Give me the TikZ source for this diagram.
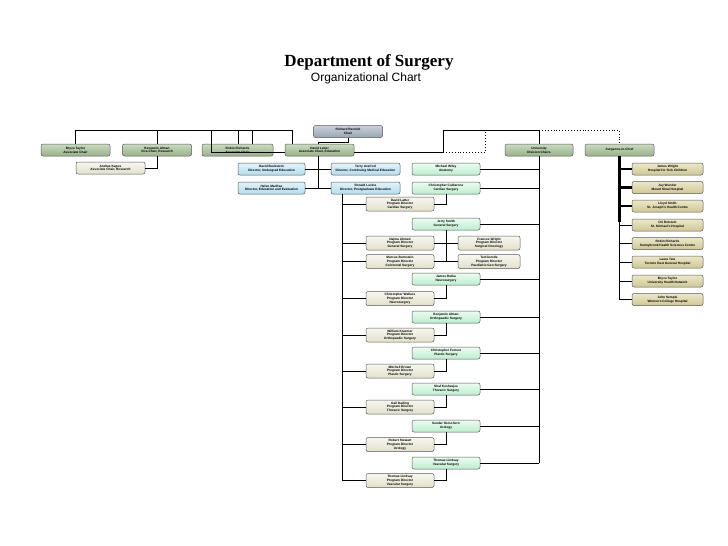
\documentclass[tikz,border=0pt]{standalone}
\usepackage{fontspec}
\setmainfont{Liberation Sans}
\newfontfamily\titlefont{Liberation Serif}
\usetikzlibrary{positioning,calc}

\definecolor{chairtop}{HTML}{C9D0DA}
\definecolor{chairbot}{HTML}{9AA5B3}
\definecolor{sagetop}{HTML}{CADBBF}
\definecolor{sagebot}{HTML}{98B089}
\definecolor{ivorytop}{HTML}{F8F7EE}
\definecolor{ivorybot}{HTML}{E2E0CB}
\definecolor{skytop}{HTML}{E2F3FB}
\definecolor{skybot}{HTML}{B4DCEE}
\definecolor{minttop}{HTML}{EDFCF2}
\definecolor{mintbot}{HTML}{BDEDCE}
\definecolor{khakitop}{HTML}{ECE8C8}
\definecolor{khakibot}{HTML}{CEC795}

\tikzset{
	box/.style={draw=black!65, line width=0.5pt, rounded corners=2pt,
		minimum width=69pt, minimum height=12pt, inner sep=0pt, align=center,
		font=\fontsize{3.2}{3.8}\selectfont\bfseries},
	chairbox/.style={box, top color=chairtop, bottom color=chairbot},
	sagebox/.style={box, top color=sagetop, bottom color=sagebot},
	ivorybox/.style={box, top color=ivorytop, bottom color=ivorybot},
	skybox/.style={box, top color=skytop, bottom color=skybot},
	mintbox/.style={box, top color=minttop, bottom color=mintbot},
	khakibox/.style={box, minimum width=71pt, top color=khakitop, bottom color=khakibot},
	pdbox/.style={ivorybox, minimum height=14pt},
	link/.style={line width=0.9pt},
	thicklink/.style={line width=2.2pt},
	dotlink/.style={line width=0.9pt, dotted},
}

\begin{document}
\begin{tikzpicture}[x=1pt,y=-1pt]
	\fill[white] (0,0) rectangle (728,546);
	\useasboundingbox (0,0) rectangle (728,546);

	\node (title) at (369,62) {\titlefont\fontsize{17}{20}\selectfont\bfseries Department of Surgery};
	\node (subtitle) at (366,78) {\fontsize{12}{14}\selectfont Organizational Chart};

	% top of the chart
	\node[chairbox] (chair) at (348,131.5) {Richard Reznick\\Chair};
	\node[sagebox] (btaylor) at (75.5,150) {Bryce Taylor\\Associate Chair};
	\node[sagebox] (balman) at (157,150) {Benjamin Alman\\Vice-Chair, Research};
	\node[sagebox, minimum width=71pt] (rrichards) at (237.5,150) {Robin Richards\\Associate Chair};
	\node[sagebox] (latter) at (319.5,150) {David Latter\\Associate Chair, Education};
	\node[sagebox, minimum width=68pt] (univ) at (539,150) {University\\Division Chairs};
	\node[sagebox] (sic) at (619.5,150) {Surgeons-in-Chief};

	\node[ivorybox] (kapus) at (110.5,168) {Andras Kapus\\Associate Chair, Research};

	% education
	\node[skybox, minimum width=67pt] (ugrad) at (271.5,169) {David Backstein\\Director, Undergrad Education};
	\node[skybox] (cme) at (365.5,169) {Terry Axelrod\\Director, Continuing Medical Education};
	\node[skybox, minimum width=67pt] (evaluation) at (271.5,188) {Helen MacRae\\Director, Education and Evaluation};
	\node[skybox] (pgrad) at (365.5,188) {Ronald Levine\\Director, Postgraduate Education};

	% division chairs
	\node[mintbox, minimum width=68pt] (anatomy) at (446,169) {Michael Wiley\\Anatomy};
	\node[mintbox, minimum width=68pt] (cardiac) at (446,188) {Christopher Caldarone\\Cardiac Surgery};
	\node[mintbox, minimum width=68pt] (general) at (446,224) {Jerry Smith\\General Surgery};
	\node[mintbox, minimum width=68pt] (neuro) at (446,279) {James Rutka\\Neurosurgery};
	\node[mintbox, minimum width=68pt] (ortho) at (446,317) {Benjamin Alman\\Orthopaedic Surgery};
	\node[mintbox, minimum width=68pt] (plastic) at (446,353) {Christopher Forrest\\Plastic Surgery};
	\node[mintbox, minimum width=68pt] (thoracic) at (446,389) {Shaf Keshavjee\\Thoracic Surgery};
	\node[mintbox, minimum width=68pt] (urology) at (446,426) {Sender Herschorn\\Urology};
	\node[mintbox, minimum width=68pt] (vascular) at (446,463) {Thomas Lindsay\\Vascular Surgery};

	% program directors
	\node[pdbox, minimum width=68pt] (pdcardiac) at (400,204) {David Latter\\Program Director\\Cardiac Surgery};
	\node[pdbox, minimum width=68pt] (pdgeneral) at (400,243) {Najma Ahmed\\Program Director\\General Surgery};
	\node[pdbox, minimum width=68pt] (pdcolorectal) at (400,261.5) {Marcus Burnstein\\Program Director\\Colorectal Surgery};
	\node[pdbox, minimum width=68pt] (pdneuro) at (400,298.5) {Christopher Wallace\\Program Director\\Neurosurgery};
	\node[pdbox, minimum width=68pt] (pdortho) at (400,335) {William Kraemer\\Program Director\\Orthopaedic Surgery};
	\node[pdbox, minimum width=68pt] (pdplastic) at (400,371) {Mitchell Brown\\Program Director\\Plastic Surgery};
	\node[pdbox, minimum width=68pt] (pdthoracic) at (400,407) {Gail Darling\\Program Director\\Thoracic Surgery};
	\node[pdbox, minimum width=68pt] (pdurology) at (400,444.5) {Robert Stewart\\Program Director\\Urology};
	\node[pdbox, minimum width=68pt] (pdvascular) at (400,480.5) {Thomas Lindsay\\Program Director\\Vascular Surgery};
	\node[pdbox, minimum width=62pt] (fwright) at (489,243) {Frances Wright\\Program Director\\Surgical Oncology};
	\node[pdbox, minimum width=62pt] (gerstle) at (489,261.5) {Ted Gerstle\\Program Director\\Paediatric Gen Surgery};

	% surgeons-in-chief
	\node[khakibox] (jwright) at (667.5,169) {James Wright\\Hospital for Sick Children};
	\node[khakibox] (wunder) at (667.5,187.5) {Jay Wunder\\Mount Sinai Hospital};
	\node[khakibox] (lsmith) at (667.5,206) {Lloyd Smith\\St. Joseph's Health Centre};
	\node[khakibox] (rotstein) at (667.5,225) {Ori Rotstein\\St. Michael's Hospital};
	\node[khakibox] (sunnybrook) at (667.5,243.5) {Robin Richards\\Sunnybrook Health Sciences Centre};
	\node[khakibox] (tate) at (667.5,262) {Laura Tate\\Toronto East General Hospital};
	\node[khakibox] (uhn) at (667.5,281) {Bryce Taylor\\University Health Network};
	\node[khakibox] (semple) at (667.5,299.5) {John Semple\\Women's College Hospital};

	% connectors
	\coordinate (lbus) at (292,130);
	\coordinate (rbus) at (443,130);
	\coordinate (rjog) at (211,152);
	\coordinate (jog) at (443,152);
	\coordinate (dotjog) at (485,152);
	\coordinate (cjog) at (318,142);
	\coordinate (pdbus) at (342,194);
	\coordinate (sicbot) at (619.5,222);

	\draw[link] (btaylor) |- (lbus) -- (lbus |- latter.north);
	\draw[link] (balman) -- (balman |- lbus);
	\draw[link] (rjog |- lbus) -- (rjog) -- (rjog -| latter.west);
	\draw[link] ([xshift=0.5pt]rrichards.north) -- ([xshift=0.5pt]rrichards.north |- lbus);
	\draw[link] ([xshift=14.5pt]rrichards.north) -- ([xshift=14.5pt]rrichards.north |- lbus);
	\draw[link] (chair.south) |- (cjog) -- (cjog |- latter.north);
	\draw[link] (latter.east |- jog) -- (jog) -- (rbus) -| (univ);
	\draw[dotlink] (jog) -- (dotjog) -- (dotjog |- rbus);
	\draw[dotlink] (univ.north |- rbus) -| (sic);
	\draw[link] (balman) |- (kapus);

	\draw[link] (cjog |- latter.south) -- (cjog |- pgrad);
	\draw[link] (ugrad) -- (cme);
	\draw[link] (evaluation) -- (pgrad);

	\draw[link] (univ) -- (univ |- vascular);
	\foreach \n in {anatomy,cardiac,general,neuro,ortho,plastic,thoracic,urology,vascular}
		\draw[link] (\n) -- (\n -| univ);

	\draw[link] (pdbus) -- (pdbus |- pdvascular);
	\foreach \n in {pdcardiac,pdgeneral,pdcolorectal,pdneuro,pdortho,pdplastic,pdthoracic,pdurology,pdvascular}
		\draw[link] (\n) -- (\n -| pdbus);

	\foreach \a/\b in {cardiac/pdcardiac,general/pdgeneral,general/pdcolorectal,general/fwright,general/gerstle,neuro/pdneuro,ortho/pdortho,plastic/pdplastic,thoracic/pdthoracic,urology/pdurology,vascular/pdvascular}
		\draw[link] (\a) |- (\b);

	\draw[thicklink] (sic) -- (sicbot);
	\draw[link] (sicbot) -- (sicbot |- semple);
	\foreach \n in {jwright,wunder,lsmith}
		\draw[thicklink] (\n) -- (\n -| sic);
	\foreach \n in {rotstein,sunnybrook,tate,uhn,semple}
		\draw[link] (\n) -- (\n -| sic);
\end{tikzpicture}
\end{document}
